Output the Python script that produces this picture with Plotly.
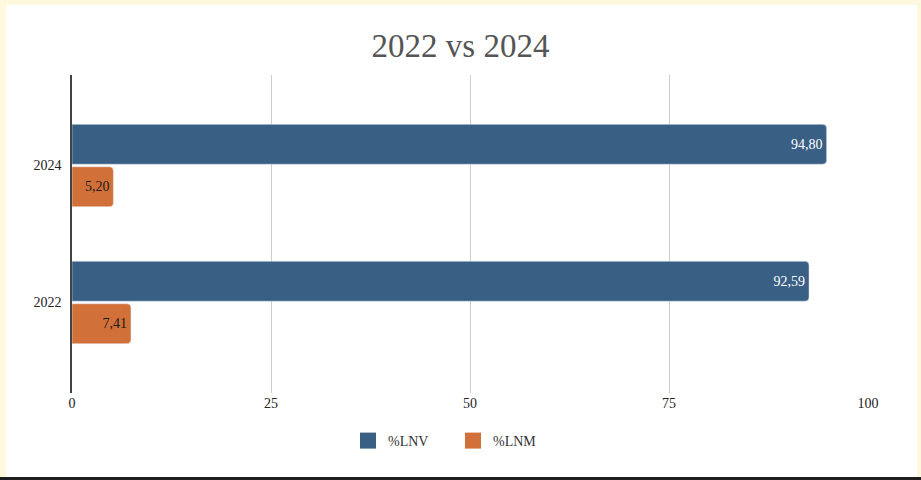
import plotly.graph_objects as go

years = ["2022", "2024"]
lnv = [92.59, 94.80]
lnm = [7.41, 5.20]
x_ticks = [0, 25, 50, 75, 100]

BLUE = "#3A5F84"
ORANGE = "#D2703A"
SERIF = "Liberation Serif, Times New Roman, serif"

fig = go.Figure()
# orange first so it sits below the blue bar in each group
fig.add_trace(go.Bar(
    y=years, x=lnm, orientation="h", name="%LNM", marker_color=ORANGE,
    texttemplate="%{x:.2f}", textposition="inside", insidetextanchor="end",
    textfont=dict(family=SERIF, size=14, color="#1a1a1a"),
    showlegend=False, hoverinfo="x+y"))
fig.add_trace(go.Bar(
    y=years, x=lnv, orientation="h", name="%LNV", marker_color=BLUE,
    texttemplate="%{x:.2f}", textposition="inside", insidetextanchor="end",
    textfont=dict(family=SERIF, size=14, color="white"),
    showlegend=False, hoverinfo="x+y"))
# legend entries
fig.add_trace(go.Scatter(x=[None], y=[None], mode="markers", name="%LNV",
                         marker=dict(symbol="square", size=16, color=BLUE)))
fig.add_trace(go.Scatter(x=[None], y=[None], mode="markers", name="%LNM",
                         marker=dict(symbol="square", size=16, color=ORANGE)))

# panel geometry in paper coords (plot area x:72-868, y:75-393)
W, H = 921, 480
L, R, T, B = 72, 53, 75, 87
pw, ph = W - L - R, H - T - B
def px(x): return (x - L) / pw
def py(y): return (H - B - y) / ph

fig.update_layout(
    width=W, height=H,
    margin=dict(l=L, r=R, t=T, b=B),
    paper_bgcolor="#FEF8DE",
    plot_bgcolor="rgba(0,0,0,0)",
    separators=",.",
    barmode="group", bargap=0.38, bargroupgap=0.06, barcornerradius=4,
    font=dict(family=SERIF, size=14, color="#333333"),
    title=dict(text="2022 vs 2024", x=0.5, xanchor="center", y=1 - 45 / H,
               yanchor="middle", font=dict(family=SERIF, size=33, color="#555555")),
    xaxis=dict(range=[0, 100], tickvals=x_ticks, showgrid=True, gridcolor="#CCCCCC",
               gridwidth=1, zeroline=False, showline=False, ticks="",
               tickfont=dict(family=SERIF, size=14, color="#222222"), fixedrange=True),
    yaxis=dict(type="category", categoryorder="array", categoryarray=years,
               range=[-0.661, 1.661], showgrid=False, zeroline=False, showline=True,
               linecolor="#444444", linewidth=1.5, ticks="", ticklabelstandoff=6,
               tickfont=dict(family=SERIF, size=14, color="#222222"), fixedrange=True),
    legend=dict(orientation="h", x=px(453), xanchor="center", y=py(441), yanchor="middle",
                font=dict(family=SERIF, size=14, color="#333333"), entrywidth=60,
                bgcolor="rgba(0,0,0,0)", itemclick=False),
    shapes=[
        dict(type="rect", xref="paper", yref="paper", layer="below",
             x0=px(6), x1=px(917), y0=py(478), y1=py(5),
             fillcolor="white", line=dict(width=0)),
        dict(type="rect", xref="paper", yref="paper", layer="below",
             x0=px(0), x1=px(921), y0=py(480), y1=py(477),
             fillcolor="#1E1E1E", line=dict(width=0)),
    ],
)

fig.write_html("out.html", config={"displayModeBar": False},
               post_script="document.body.style.margin='0';document.body.style.overflow='hidden';")
